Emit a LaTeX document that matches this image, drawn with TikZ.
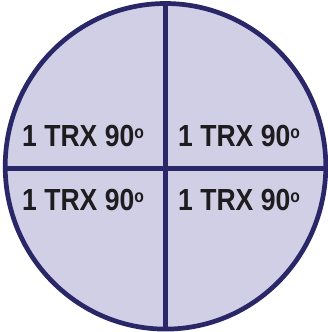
\documentclass[tikz,border=0pt]{standalone}
\usepackage{fontspec}
\setmainfont{Liberation Sans}
\definecolor{fillc}{RGB}{208,207,230}
\definecolor{linec}{RGB}{41,39,104}
\definecolor{textc}{RGB}{30,28,30}
\newcommand{\trxlabel}{\scalebox{0.87}[1]{1 TRX 90\raisebox{8pt}{\fontsize{18}{19}\selectfont o}}}
\begin{document}
\begin{tikzpicture}[x=1pt,y=-1pt,
  sep/.style={linec, line width=5.3pt},
  lbl/.style={anchor=base west, inner sep=0, text=textc,
    font=\fontsize{30.5}{32}\selectfont\bfseries}]
\useasboundingbox (0,0) rectangle (328,332);
\coordinate (ctr) at (165.5,166.3);
\coordinate (top) at (165.3,0);
\coordinate (bot) at (165.3,332);
\coordinate (lft) at (0,168.5);
\coordinate (rgt) at (328,168.5);
\fill[fillc] (ctr) ellipse [x radius=160.3, y radius=162.8];
\begin{scope}
  \clip (ctr) ellipse [x radius=160.3, y radius=162.8];
  \draw[sep] (top) -- (bot);
  \draw[sep] (lft) -- (rgt);
\end{scope}
\draw[linec, line width=4.7pt] (ctr) ellipse [x radius=160.3, y radius=162.8];
\node[lbl] (q1) at (22,146) {\trxlabel};
\node[lbl] (q2) at (178,146) {\trxlabel};
\node[lbl] (q3) at (22,210.5) {\trxlabel};
\node[lbl] (q4) at (178,210.5) {\trxlabel};
\end{tikzpicture}
\end{document}
